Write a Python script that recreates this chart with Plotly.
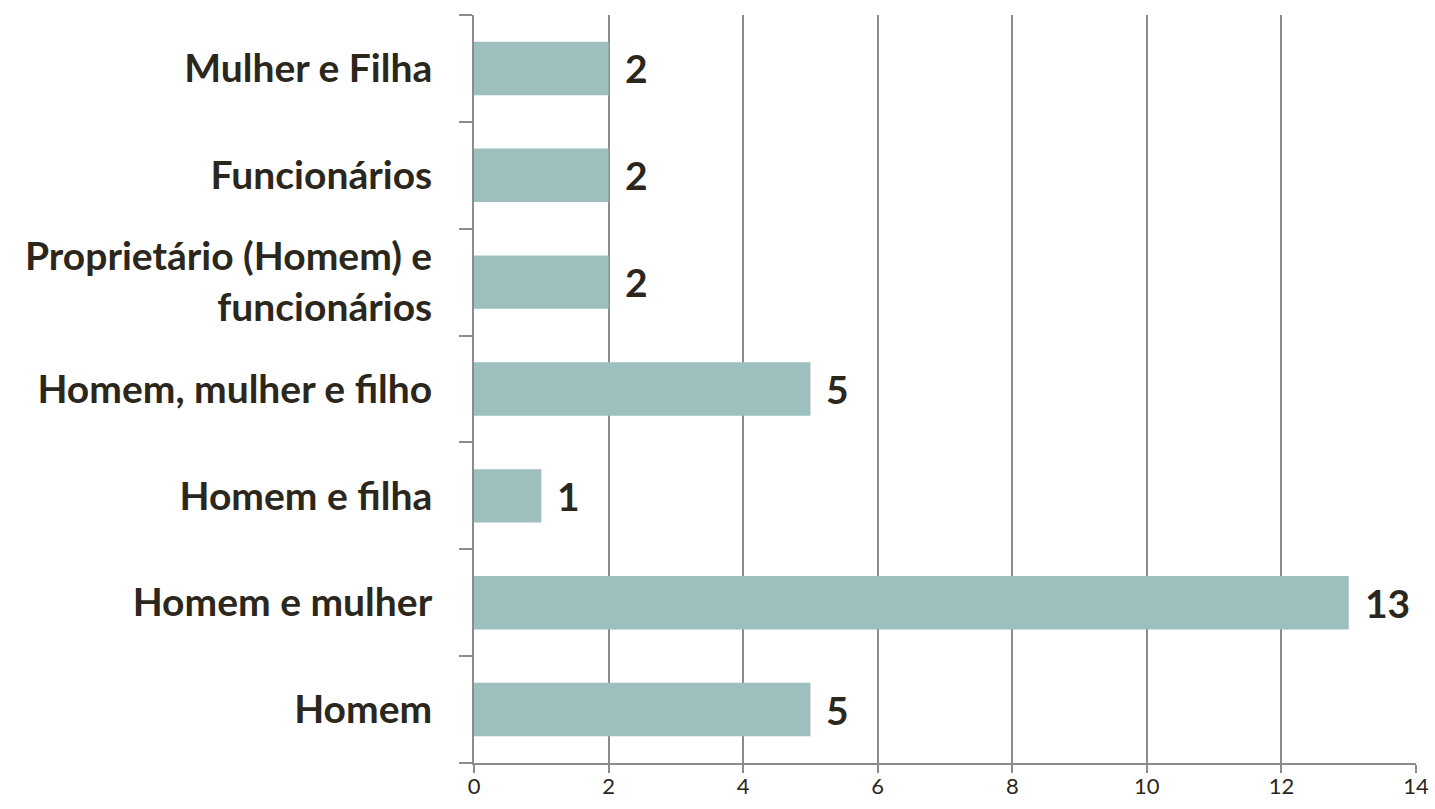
import plotly.graph_objects as go

# Categories bottom-to-top, as drawn on the y axis
categories = [
    "Homem",
    "Homem e mulher",
    "Homem e filha",
    "Homem, mulher e filho",
    "Proprietário (Homem) e<br>funcionários",
    "Funcionários",
    "Mulher e Filha",
]
counts = [5, 13, 1, 5, 2, 2, 2]
x_ticks = [0, 2, 4, 6, 8, 10, 12, 14]

BAR = "#9dbfbd"
GRID = "#8c8c8c"
INK = "#2b271c"
FONT = "Lato"

fig = go.Figure()
fig.add_trace(go.Bar(
    x=counts, y=categories, orientation="h",
    marker=dict(color=BAR, line=dict(width=0)),
    width=0.5, showlegend=False, hoverinfo="x+y",
))

# Value labels just past the end of each bar
for c, v in zip(categories, counts):
    fig.add_annotation(
        x=v, y=c, text=f"<b>{v}</b>", showarrow=False,
        xanchor="left", xshift=14,
        font=dict(family=FONT, size=39, color=INK),
    )

fig.update_xaxes(
    range=[0, 14], tickvals=x_ticks, ticks="outside", ticklen=8,
    tickwidth=2, tickcolor=GRID, showgrid=True, gridcolor=GRID, gridwidth=2,
    showline=True, linecolor=GRID, linewidth=2, zeroline=False,
    ticklabelstandoff=-5, automargin=False,
    tickfont=dict(family=FONT, size=22, color=INK),
)
fig.update_yaxes(
    categoryorder="array", categoryarray=categories,
    ticks="outside", tickson="boundaries", ticklen=13, tickwidth=2,
    tickcolor=GRID, showline=True, linecolor=GRID, linewidth=2,
    showgrid=False, ticklabelstandoff=32, automargin=False,
    tickfont=dict(family=FONT, size=39, color=INK, weight="bold"),
)
fig.update_layout(
    width=1435, height=809,
    margin=dict(l=474, r=19, t=15, b=46),
    plot_bgcolor="white", paper_bgcolor="white",
    bargap=0.5,
)
# drop the browser's default body margin so the figure sits at the page origin
fig.write_html(
    "out.html",
    config={"displayModeBar": False},
    post_script="document.body.style.margin='0';",
)
